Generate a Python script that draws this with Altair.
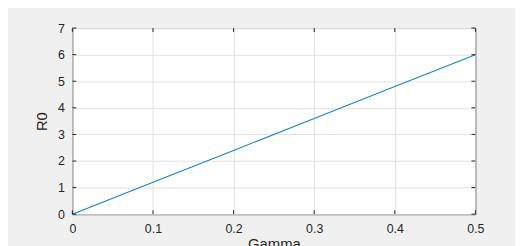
import altair as alt
import pandas as pd

gamma = [0.0, 0.1, 0.2, 0.3, 0.4, 0.5]
r0 = [0.0, 1.2, 2.4, 3.6, 4.8, 6.0]
x_ticks = [0, 0.1, 0.2, 0.3, 0.4, 0.5]
y_ticks = [0, 1, 2, 3, 4, 5, 6, 7]

W, H = 407, 188
FONT = "Liberation Sans"
TXT = "#262626"

df = pd.DataFrame({"Gamma": gamma, "R0": r0})
xt = pd.DataFrame({"Gamma": x_ticks})
yt = pd.DataFrame({"R0": y_ticks})

xs = alt.Scale(domain=[0, 0.5], nice=False, zero=False)
ys = alt.Scale(domain=[0, 7], nice=False)

xaxis = alt.Axis(values=x_ticks, format="~g", title="Gamma", titlePadding=2)
yaxis = alt.Axis(values=y_ticks, format="~g", title="R0", titlePadding=8)

line = alt.Chart(df).mark_line(color="#1a80d0", strokeWidth=1.1).encode(
    x=alt.X("Gamma:Q", scale=xs, axis=xaxis),
    y=alt.Y("R0:Q", scale=ys, axis=yaxis),
)

tick_top = alt.Chart(xt).mark_rule(color=TXT, strokeWidth=1).encode(
    x=alt.X("Gamma:Q", scale=xs, axis=xaxis), y=alt.value(0), y2=alt.value(4))
tick_bot = alt.Chart(xt).mark_rule(color=TXT, strokeWidth=1).encode(
    x=alt.X("Gamma:Q", scale=xs, axis=xaxis), y=alt.value(H), y2=alt.value(H - 4))
tick_left = alt.Chart(yt).mark_rule(color=TXT, strokeWidth=1).encode(
    y=alt.Y("R0:Q", scale=ys, axis=yaxis), x=alt.value(0), x2=alt.value(4))
tick_right = alt.Chart(yt).mark_rule(color=TXT, strokeWidth=1).encode(
    y=alt.Y("R0:Q", scale=ys, axis=yaxis), x=alt.value(W), x2=alt.value(W - 4))

chart = alt.layer(line, tick_top, tick_bot, tick_left, tick_right).properties(
    width=W, height=H,
    background="#f0f0f0",
    autosize=alt.AutoSizeParams(type="none"),
    padding={"left": 65, "top": 19, "right": 40, "bottom": 45},
).configure_view(
    stroke=TXT, strokeWidth=1, fill="white"
).configure_axis(
    grid=True, gridColor="#e2e2e2", gridWidth=1,
    tickSize=0, domain=False, labelPadding=8, labelFontSize=12.5,
    labelColor=TXT, labelFont=FONT, labelFlush=False, labelOverlap=False,
    titleFont=FONT, titleFontSize=15, titleColor=TXT, titleFontWeight="normal",
)

chart.save("out.html", embed_options={"renderer": "svg", "actions": False})
